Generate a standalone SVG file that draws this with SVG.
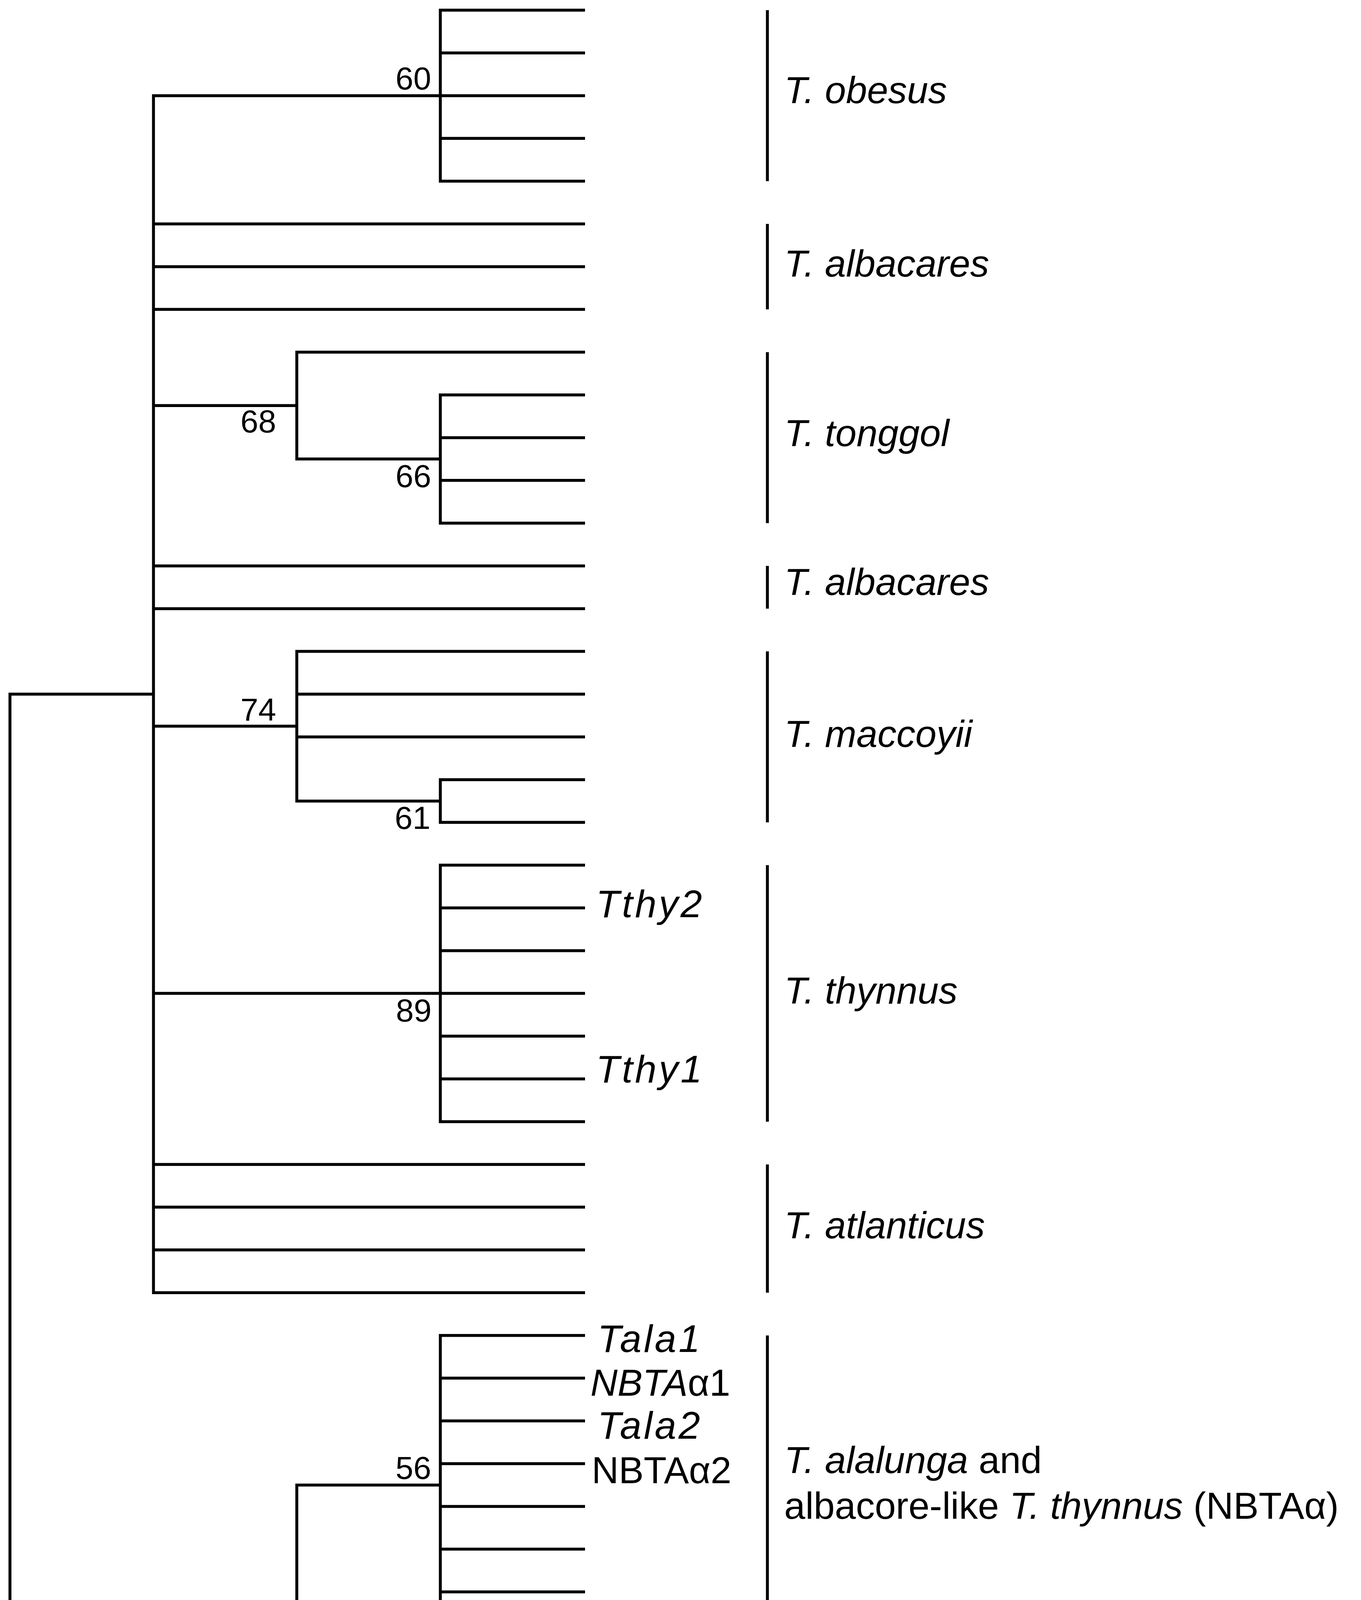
<svg xmlns="http://www.w3.org/2000/svg" width="3485" height="5340" viewBox="0 0 3485 5340">
<style>
.br{fill:none;stroke:#000;stroke-width:7.5;stroke-linejoin:miter;stroke-linecap:butt}
.bk{fill:none;stroke:#000;stroke-width:7.5}
text{font-family:"Liberation Sans",Arial,"DejaVu Sans",sans-serif;fill:#000}
.bs{font-size:82px;text-anchor:end}
.sp{font-size:97px}
.lf{font-size:99px;font-style:italic;letter-spacing:6px}
.nb{font-size:96px}
.i{font-style:italic}
</style>
<rect width="3485" height="5340" fill="#fff"/>
<g id="connectors" class="br">
<path d="M393,1777.04 H25.5 V4540.4 H760"/>
<path d="M1127.5,244.88 H393 V3309.2 H1498"/>
<path d="M393,573.2 H1498 M393,682.64 H1498 M393,792.08 H1498 M393,1038.32 H760 M393,1448.72 H1498 M393,1558.16 H1498 M393,1859.12 H760 M393,2543.12 H1127.5 M393,2980.88 H1498 M393,3090.32 H1498 M393,3199.76 H1498"/>
<path d="M1498,26 H1127.5 V463.76 H1498 M1127.5,135.44 H1498 M1127.5,244.88 H1498 M1127.5,354.32 H1498"/>
<path d="M1498,901.52 H760 V1175.12 H1127.5"/>
<path d="M1498,1010.96 H1127.5 V1339.28 H1498 M1127.5,1120.4 H1498 M1127.5,1229.84 H1498"/>
<path d="M1498,1667.6 H760 V2050.64 H1127.5 M760,1777.04 H1498 M760,1886.48 H1498"/>
<path d="M1498,1995.92 H1127.5 V2105.36 H1498"/>
<path d="M1498,2214.8 H1127.5 V2871.44 H1498 M1127.5,2324.24 H1498 M1127.5,2433.68 H1498 M1127.5,2543.12 H1498 M1127.5,2652.56 H1498 M1127.5,2762 H1498"/>
<path d="M1127.5,3801.68 H760 V5279.12 H1498 M760,4294.16 H1498 M760,4403.6 H1498 M760,4513.04 H1498 M760,4622.48 H1498 M760,4731.92 H1498 M760,4841.36 H1498 M760,4950.8 H1498 M760,5060.24 H1498 M760,5169.68 H1498"/>
<path d="M1498,3418.64 H1127.5 V4184.72 H1498 M1127.5,3528.08 H1498 M1127.5,3637.52 H1498 M1127.5,3746.96 H1498 M1127.5,3856.4 H1498 M1127.5,3965.84 H1498 M1127.5,4075.28 H1498"/>
</g>
<g id="bootstrap">
<text class="bs" x="1104" y="229">60</text>
<text class="bs" x="707" y="1107">68</text>
<text class="bs" x="1104" y="1247">66</text>
<text class="bs" x="707" y="1845">74</text>
<text class="bs" x="1102" y="2122">61</text>
<text class="bs" x="1105" y="2615">89</text>
<text class="bs" x="1104" y="3786">56</text>
<text class="bs" x="737" y="4627">98</text>
</g>
<g id="leaf-labels">
<text class="lf" x="1526" y="2348">Tthy2</text>
<text class="lf" x="1526" y="2771">Tthy1</text>
<text class="lf" x="1530" y="3461">Tala1</text>
<text class="nb" x="1512" y="3573"><tspan class="i">NBTA</tspan>α1</text>
<text class="lf" x="1530" y="3683">Tala2</text>
<text class="nb" x="1515" y="3797">NBTAα2</text>
<text class="nb" x="1512" y="4451"><tspan class="i">NBTA</tspan>ϕ1</text>
<text class="lf" x="1528" y="4557">Tori2</text>
<text class="nb" x="1512" y="4768"><tspan class="i">NBTA</tspan>ϕ2</text>
<text class="lf" x="1528" y="5099">Tori1</text>
<text class="lf" x="1528" y="5309">Tori3</text>
</g>
<g id="clade-obesus"><path class="bk" d="M1965,26 V463.76"/><text class="sp i" x="2008" y="264">T. obesus</text></g>
<g id="clade-albacares-1"><path class="bk" d="M1965,573.2 V792.08"/><text class="sp i" x="2008" y="708">T. albacares</text></g>
<g id="clade-tonggol"><path class="bk" d="M1965,901.52 V1339.28"/><text class="sp i" x="2008" y="1142">T. tonggol</text></g>
<g id="clade-albacares-2"><path class="bk" d="M1965,1448.72 V1558.16"/><text class="sp i" x="2008" y="1523">T. albacares</text></g>
<g id="clade-maccoyii"><path class="bk" d="M1965,1667.6 V2105.36"/><text class="sp i" x="2008" y="1912">T. maccoyii</text></g>
<g id="clade-thynnus"><path class="bk" d="M1965,2214.8 V2871.44"/><text class="sp i" x="2008" y="2569">T. thynnus</text></g>
<g id="clade-atlanticus"><path class="bk" d="M1965,2980.88 V3309.2"/><text class="sp i" x="2008" y="3170">T. atlanticus</text></g>
<g id="clade-alalunga"><path class="bk" d="M1965,3418.64 V4184.72"/>
<text class="sp" x="2008" y="3771"><tspan class="i">T. alalunga</tspan> and</text>
<text class="sp" x="2008" y="3888">albacore-like <tspan class="i">T. thynnus</tspan> (NBTAα)</text></g>
<g id="clade-orientalis"><path class="bk" d="M1965,4294.16 V5279.12"/>
<text class="sp" x="2008" y="4701"><tspan class="i">T. orientalis</tspan> and</text>
<text class="sp" x="2008" y="4821">Pacific-like <tspan class="i">T. thynnus</tspan> (NBTAϕ)</text></g>
</svg>
